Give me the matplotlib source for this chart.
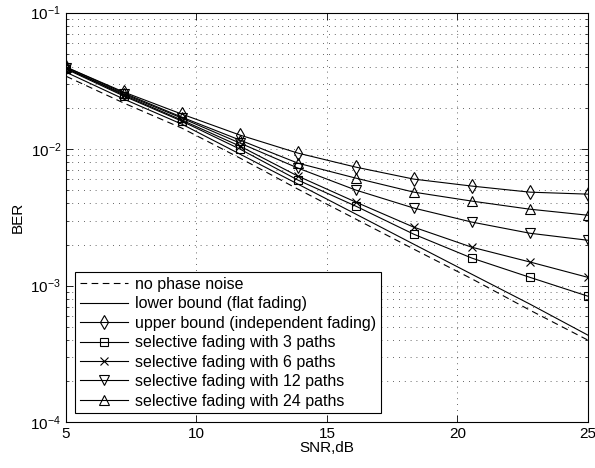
import numpy as np
import matplotlib
matplotlib.use("Agg")
import matplotlib.pyplot as plt
from matplotlib.ticker import LogLocator, FixedLocator, NullFormatter

plt.rcParams["font.family"] = ["Liberation Sans", "DejaVu Sans"]
plt.rcParams["mathtext.fontset"] = "custom"
plt.rcParams["mathtext.rm"] = "Liberation Sans"

# Data
snr = [5, 7.22, 9.44, 11.67, 13.89, 16.11, 18.33, 20.56, 22.78, 25]
no_phase_noise = [0.0342, 0.02173, 0.01425, 0.00859, 0.00509, 0.00307, 0.00185, 0.00112, 0.000661, 0.000399]
lower_bound = [0.0366, 0.02325, 0.01524, 0.00919, 0.00554, 0.00334, 0.00201, 0.00121, 0.000732, 0.000434]
upper_bound = [0.0399, 0.02616, 0.01805, 0.01267, 0.00935, 0.00738, 0.00603, 0.00536, 0.00484, 0.00468]
paths_3 = [0.0386, 0.02446, 0.01603, 0.0100, 0.00593, 0.00382, 0.00238, 0.00159, 0.00115, 0.000837]
paths_6 = [0.0392, 0.02487, 0.01631, 0.01051, 0.00634, 0.00409, 0.00268, 0.00191, 0.00149, 0.00115]
paths_12 = [0.0392, 0.02529, 0.01687, 0.01107, 0.00726, 0.00501, 0.00370, 0.00292, 0.00242, 0.00215]
paths_24 = [0.0399, 0.02573, 0.01715, 0.01164, 0.00789, 0.00613, 0.00484, 0.00416, 0.00363, 0.00328]

fig = plt.figure(figsize=(5.95, 4.68), dpi=100)
ax = fig.add_axes([0.111, 0.098, 0.877, 0.875])

lw = 0.8
ax.semilogy(snr, no_phase_noise, "k--", lw=lw, dashes=(6, 4), label="no phase noise")
ax.semilogy(snr, lower_bound, "k-", lw=lw, label="lower bound (flat fading)")
ax.semilogy(snr, upper_bound, "k-", lw=lw, marker="d", ms=7.5, mfc="none", mew=lw,
            label="upper bound (independent fading)")
ax.semilogy(snr, paths_3, "k-", lw=lw, marker="s", ms=6, mfc="none", mew=lw,
            label="selective fading with 3 paths")
ax.semilogy(snr, paths_6, "k-", lw=lw, marker="x", ms=5.5, mfc="none", mew=lw,
            label="selective fading with 6 paths")
ax.semilogy(snr, paths_12, "k-", lw=lw, marker="v", ms=7.5, mfc="none", mew=lw,
            label="selective fading with 12 paths")
ax.semilogy(snr, paths_24, "k-", lw=lw, marker="^", ms=7.5, mfc="none", mew=lw,
            label="selective fading with 24 paths")

ax.set_xlim(5, 25)
ax.set_ylim(1e-4, 1e-1)
ax.xaxis.set_major_locator(FixedLocator([5, 10, 15, 20, 25]))
ax.yaxis.set_major_locator(LogLocator(base=10, numticks=10))
ax.yaxis.set_minor_locator(LogLocator(base=10, subs=np.arange(2, 10), numticks=20))
ax.yaxis.set_minor_formatter(NullFormatter())

ax.tick_params(which="both", direction="in", top=True, right=True, labelsize=11)
ax.tick_params(which="major", length=5, width=0.6)
ax.tick_params(which="minor", length=2.5, width=0.5)
for s in ax.spines.values():
    s.set_linewidth(0.8)

grid_style = dict(color="0.2", linestyle=(0, (1, 6)), linewidth=0.6)
ax.grid(True, which="major", axis="both", **grid_style)
ax.grid(True, which="minor", axis="y", **grid_style)

ax.set_xlabel("SNR,dB", fontsize=11, labelpad=0)
ax.set_ylabel("BER", fontsize=11, labelpad=4)

leg = ax.legend(loc="lower left", fontsize=11.5, handlelength=3.0, frameon=True, fancybox=False,
                edgecolor="black", framealpha=1, borderpad=0.3, labelspacing=0.28,
                handletextpad=0.45, borderaxespad=0.55)
leg.get_frame().set_linewidth(0.8)

fig.savefig("out.png", dpi=100)
